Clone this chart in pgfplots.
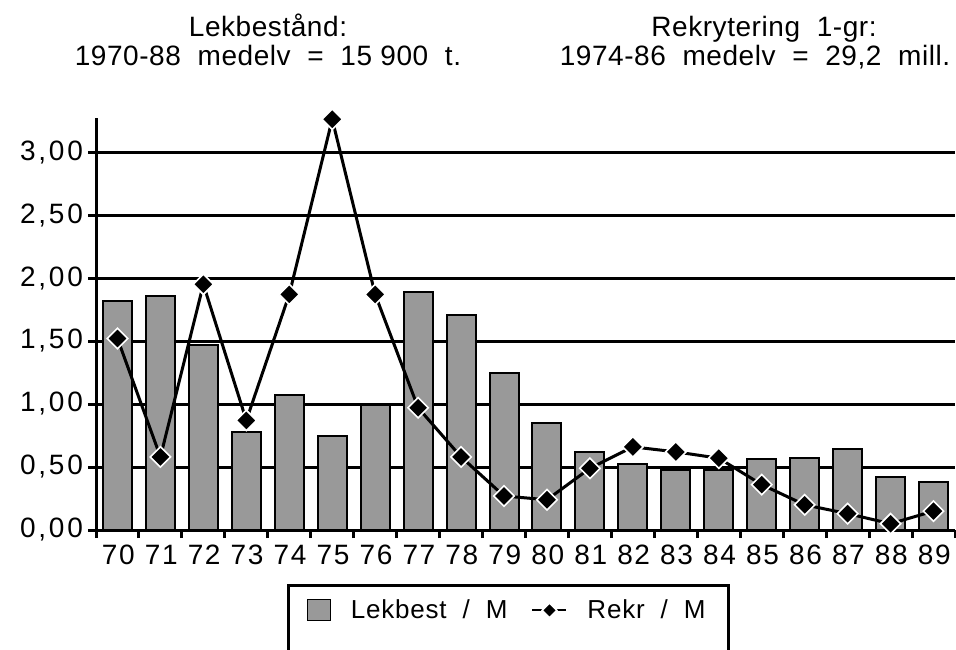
\documentclass[border=0pt]{standalone}
\usepackage{fontspec}
\setmainfont{Liberation Sans}
\newfontfamily\ytfont[LetterSpace=10]{Liberation Sans}
\newfontfamily\xtfont[LetterSpace=6]{Liberation Sans}
\newfontfamily\titfont[LetterSpace=2]{Liberation Sans}
\newfontfamily\legfont[LetterSpace=3]{Liberation Sans}
\usepackage{pgfplots}
\usepackage{pgfplotstable}
\pgfplotsset{compat=1.18}

\pgfplotsset{
    barleg/.style={legend image code/.code={%
        \fill[black!40, draw=black, line width=0.6pt] (0pt,-5pt) rectangle (11.5pt,5.5pt);}},
    lineleg/.style={legend image code/.code={%
        \draw[##1, line width=1pt, mark size=2.6pt, mark repeat=2, mark phase=2]
        plot coordinates {(0pt,0pt) (8.5pt,0pt) (17pt,0pt)};}},
}

% year index (70 = 0), Lekbest / M, Rekr / M
\pgfplotstableread{
x  lek   rekr
0  1.82  1.52
1  1.86  0.58
2  1.47  1.95
3  0.78  0.87
4  1.07  1.87
5  0.75  3.26
6  0.99  1.87
7  1.89  0.97
8  1.71  0.58
9  1.25  0.27
10 0.85  0.24
11 0.62  0.49
12 0.52  0.66
13 0.48  0.62
14 0.48  0.57
15 0.56  0.36
16 0.57  0.20
17 0.64  0.13
18 0.42  0.05
19 0.38  0.15
}\data

\begin{document}
\begin{tikzpicture}
\useasboundingbox (-48pt,-59.5pt) rectangle (430pt,265pt);
\begin{axis}[
    at={(0,0)}, anchor=south west,
    scale only axis,
    width=429.5pt, height=206pt,
    xmin=-0.5, xmax=19.5,
    ymin=0, ymax=3.27,
    axis x line*=bottom, axis y line*=left,
    axis line style={line width=1.5pt, -},
    xtick={-0.5,0.5,...,19.5},
    x tick label as interval,
    xticklabels={70,71,72,73,74,75,76,77,78,79,80,81,82,83,84,85,86,87,88,89},
    xticklabel style={font=\xtfont\fontsize{14}{15}\selectfont, xshift=0.4pt},
    ytick={0,0.5,1,1.5,2,2.5,3},
    yticklabels={{0,00},{0,50},{1,00},{1,50},{2,00},{2,50},{3,00}},
    yticklabel style={font=\ytfont\fontsize{14}{15}\selectfont, xshift=1pt},
    tick align=outside,
    major tick length=4pt,
    tick style={line width=1.5pt, black},
    ymajorgrids,
    major grid style={line width=1.5pt, black},
    clip=false,
    legend columns=2,
    legend style={
        name=leg,
        at={(0.2238,-0.1335)}, anchor=north west,
        draw=none,
        font=\legfont\fontsize{13}{15}\selectfont,
        inner xsep=9pt, inner ysep=5pt,
        /tikz/every odd column/.append style={column sep=8pt},
        /tikz/every even column/.append style={column sep=10pt},
    },
]
\addplot[ybar, bar width=14.5pt, fill=black!40, draw=black, line width=1pt, barleg]
    table[x=x, y=lek] {\data};
\addlegendentry{Lekbest\ \ /\ \ M}
\addplot[black, line width=1.5pt, mark=square*, mark size=3.6pt,
    mark options={rotate=45, fill=black, draw=white, line width=0.8pt}, lineleg]
    table[x=x, y=rekr] {\data};
\addlegendentry{Rekr\ \ /\ \ M\hspace{17.5pt}}
\end{axis}
\draw[line width=1.5pt] (leg.north west) rectangle ([yshift=-70pt]leg.north east);
\node[anchor=base, font=\titfont\fontsize{14}{16}\selectfont] at (86pt,246.5pt)
    {Lekbestånd:};
\node[anchor=base, font=\titfont\fontsize{14}{16}\selectfont] at (86pt,232pt)
    {1970-88\ \ medelv\ \ =\ \ 15\ 900\ \ t.};
\node[anchor=base, font=\titfont\fontsize{14}{16}\selectfont] at (334pt,246.5pt)
    {Rekrytering\ \ 1-gr:};
\node[anchor=base, font=\titfont\fontsize{14}{16}\selectfont] at (329.5pt,232pt)
    {1974-86\ \ medelv\ \ =\ \ 29,2\ \ mill.};
\end{tikzpicture}
\end{document}
